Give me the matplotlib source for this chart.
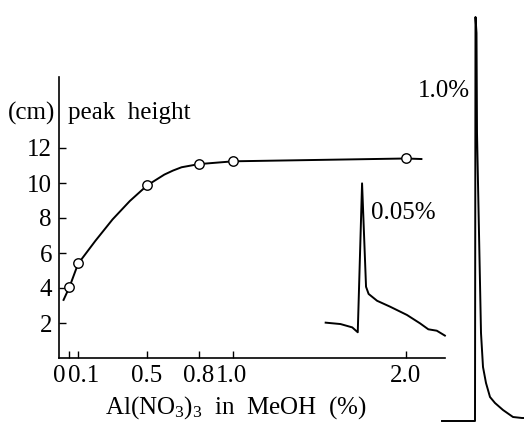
import matplotlib
matplotlib.use("Agg")
import matplotlib.pyplot as plt
import numpy as np

plt.rcParams['font.family'] = ['Liberation Serif', 'DejaVu Serif']
plt.rcParams['mathtext.fontset'] = 'custom'
plt.rcParams['mathtext.rm'] = 'Liberation Serif'
plt.rcParams['mathtext.it'] = 'Liberation Serif:italic'

# measured points: Al(NO3)3 concentration (%) vs peak height (cm)
conc = [0.05, 0.1, 0.5, 0.8, 1.0, 2.0]
height = [4.08, 5.43, 9.88, 11.11, 11.28, 11.43]

# hand-drawn smooth curve through the points
curve_x = [0.016, 0.05, 0.1, 0.2, 0.3, 0.4, 0.5, 0.6, 0.65, 0.7, 0.8, 1.0, 1.5, 2.0, 2.09]
curve_y = [3.32, 4.05, 5.38, 6.69, 7.92, 8.97, 9.86, 10.48, 10.71, 10.9, 11.08, 11.24, 11.32, 11.4, 11.37]

# inset chromatogram for 0.05 % (drawn in main-axes units)
trace005_x = [1.535, 1.621, 1.689, 1.721, 1.746, 1.769, 1.784, 1.833, 1.909, 2.006, 2.082, 2.130, 2.179, 2.226]
trace005_y = [2.02, 1.94, 1.75, 1.47, 9.98, 4.07, 3.66, 3.27, 2.93, 2.46, 1.98, 1.64, 1.56, 1.28]

# chromatogram for 1.0 % (time units, signal units)
trace10_t = [2, 35, 35.5, 36.5, 37, 39, 41, 43, 46, 50, 55, 63, 73, 82, 84]
trace10_s = [0, 0, 404, 388, 288, 188, 88, 54, 38, 24, 18, 11, 4, 3, 3]

yticks = [2, 4, 6, 8, 10, 12]
xtick_marks = [0.05, 0.1, 0.5, 0.8, 1.0, 2.0]
xtick_label_pos = [-0.011, 0.133, 0.5, 0.8, 0.987, 2.0]
xtick_labels = ['0', '0.1', '0.5', '0.8', '1.0', '2.0']

W, H = 524, 423
fig = plt.figure(figsize=(W / 100, H / 100), dpi=100)

# main axes
ax = fig.add_axes([58.9 / W, (H - 358) / H, (445 - 58.9) / W, (358 - 77) / H])
ax.set_xlim(0, (445 - 58.9) / 173.4)
ax.set_ylim(0, (358 - 77) / 17.5)
for s in ['top', 'right']:
    ax.spines[s].set_visible(False)
for s in ['left', 'bottom']:
    ax.spines[s].set_linewidth(1.2)

ax.plot(curve_x, curve_y, color='black', lw=1.4, zorder=2)
ax.plot(conc, height, linestyle='none', marker='o', ms=6.8, mfc='white',
        mec='black', mew=1.0, zorder=3)
ax.plot(trace005_x, trace005_y, color='black', lw=1.4, zorder=2, clip_on=False)

ax.set_yticks(yticks)
ax.set_yticklabels([str(v) for v in yticks])
ax.tick_params(axis='y', direction='in', length=5, width=1, pad=5, labelsize=18)

ax.xaxis.remove_overlapping_locs = False
ax.set_xticks(xtick_marks)
ax.set_xticklabels([''] * len(xtick_marks))
ax.tick_params(axis='x', direction='in', length=5, width=1, pad=4)
ax.set_xticks(xtick_label_pos, minor=True)
ax.set_xticklabels(xtick_labels, minor=True)
ax.tick_params(axis='x', which='minor', length=0, pad=5, labelsize=18)

ax.text(1.795, 8.29, '0.05%', fontsize=18, ha='left', va='center')

fig.text(236 / W, 1 - 408 / H, r'Al(NO$_3$)$_3$  in  MeOH  (%)', fontsize=18,
         ha='center', va='center')
fig.text(55 / W, 1 - 113 / H, '(cm)', fontsize=18, ha='right', va='center')
fig.text(68 / W, 1 - 113 / H, 'peak  height', fontsize=18, ha='left', va='center')
fig.text(470 / W, 1 - 91 / H, '1.0%', fontsize=18, ha='right', va='center')

# right chromatogram
ax2 = fig.add_axes([440 / W, (H - 421) / H, 84 / W, 404 / H])
ax2.set_xlim(0, 84)
ax2.set_ylim(0, 404)
ax2.axis('off')
ax2.plot(trace10_t, trace10_s, color='black', lw=1.4, clip_on=False)

fig.savefig('out.png', dpi=100)
